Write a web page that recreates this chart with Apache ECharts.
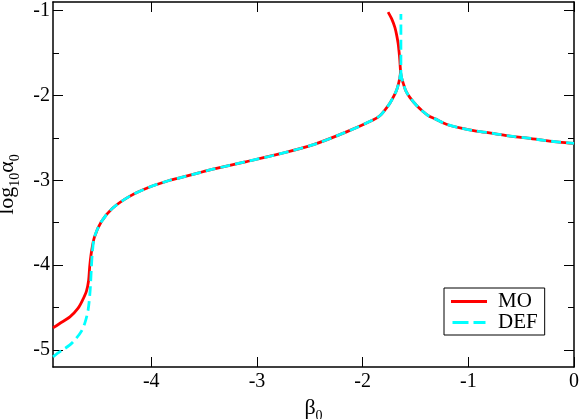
<!DOCTYPE html>
<html>
<head>
<meta charset="utf-8">
<script src="https://cdn.jsdelivr.net/npm/echarts@6/dist/echarts.min.js"></script>
<style>html,body{margin:0;padding:0;background:#fff;}#c{width:581px;height:419px;}</style>
</head>
<body>
<div id="c"></div>
<script>
// MO series (null separates branches)
var moBeta = [-4.93,-4.87,-4.77,-4.694,-4.649,-4.614,-4.593,-4.583,-4.568,-4.538,-4.473,-4.367,-4.206,-4.015,-3.824,-3.723,-3.542,-3.416,-3.099,-2.787,-2.465,-2.153,-1.902,-1.837,-1.781,-1.741,-1.705,-1.679,-1.66,-1.648,-1.642,-1.645,-1.648,-1.655,-1.664,-1.678,-1.695,-1.721,-1.759,
  null,
  -1.642,-1.63,-1.61,-1.59,-1.55,-1.489,-1.429,-1.378,-1.308,-1.207,-1.056,-0.926,-0.755,-0.604,-0.453,-0.282,-0.141,0];
var moLog = [-4.74,-4.69,-4.61,-4.51,-4.41,-4.31,-4.18,-4.02,-3.86,-3.67,-3.49,-3.33,-3.19,-3.08,-3.00,-2.97,-2.91,-2.87,-2.78,-2.69,-2.58,-2.43,-2.29,-2.24,-2.16,-2.09,-2.01,-1.94,-1.86,-1.79,-1.72,-1.65,-1.59,-1.49,-1.39,-1.29,-1.20,-1.11,-1.02,
  null,
  -1.72,-1.80,-1.88,-1.95,-2.03,-2.12,-2.19,-2.24,-2.28,-2.34,-2.39,-2.42,-2.45,-2.48,-2.50,-2.53,-2.55,-2.565];
// DEF series
var defBeta = [-4.93,-4.90,-4.84,-4.77,-4.709,-4.662,-4.628,-4.598,-4.578,-4.568,-4.558,-4.538,-4.473,-4.367,-4.206,-4.015,-3.824,-3.723,-3.542,-3.416,-3.099,-2.787,-2.465,-2.153,-1.902,-1.837,-1.781,-1.741,-1.705,-1.679,-1.66,-1.648,-1.638,-1.638,
  null,
  -1.638,-1.63,-1.61,-1.59,-1.55,-1.489,-1.429,-1.378,-1.308,-1.207,-1.056,-0.926,-0.755,-0.604,-0.453,-0.282,-0.141,0];
var defLog = [-5.08,-5.05,-5.00,-4.94,-4.86,-4.78,-4.68,-4.53,-4.29,-4.06,-3.86,-3.67,-3.49,-3.33,-3.19,-3.08,-3.00,-2.97,-2.91,-2.87,-2.78,-2.69,-2.58,-2.43,-2.29,-2.24,-2.16,-2.09,-2.01,-1.94,-1.86,-1.79,-1.72,-1.04,
  null,
  -1.72,-1.80,-1.88,-1.95,-2.03,-2.12,-2.19,-2.24,-2.28,-2.34,-2.39,-2.42,-2.45,-2.48,-2.50,-2.53,-2.55,-2.565];
var xTicks = [-4,-3,-2,-1,0];
var yTicks = [-5,-4,-3,-2,-1];
var yMinorTicks = [-4.5,-3.5,-2.5,-1.5];

function pairs(xs, ys){
  return xs.map(function(x,i){ return (x===null||ys[i]===null) ? '-' : [x, ys[i]]; });
}
var FONT = 'Liberation Serif';
var chart = echarts.init(document.getElementById('c'), null, {renderer:'canvas'});
var axLine = {show:true, onZero:false, lineStyle:{color:'#000', width:1.5}};
var noLine = {show:false, onZero:false};
var xBase = {type:'value', min:-4.93, max:0, splitLine:{show:false}};
var yBase = {type:'value', min:-5.2, max:-0.9, splitLine:{show:false}};
var tickStyle = {color:'#000', width:1};
var nameRich = {
  a:{fontFamily:FONT, fontSize:22, color:'#000'},
  s:{fontFamily:FONT, fontSize:14, color:'#000', padding:[16,0,0,0]}
};
chart.setOption({
  animation:false,
  backgroundColor:'#fff',
  grid:{left:53, right:7, top:2, bottom:52, containLabel:false, outerBoundsMode:'none'},
  legend:{
    orient:'vertical', left:444, top:288,
    padding:[3,7,2,7], itemGap:0, itemWidth:36, itemHeight:3,
    borderColor:'#000', borderWidth:1, borderRadius:0, backgroundColor:'#fff',
    textStyle:{fontFamily:FONT, fontSize:21, color:'#000', padding:[0,0,0,6], lineHeight:21},
    data:[
      {name:'MO', icon:'path://M0,0h36v3h-36z'},
      {name:'DEF', icon:'path://M0,0h16v3h-16z M21,0h12v3h-12z'}
    ]
  },
  xAxis:[
    Object.assign({}, xBase, {position:'bottom', axisLine:axLine,
      axisTick:{show:true, inside:true, length:10, customValues:xTicks, lineStyle:tickStyle},
      axisLabel:{customValues:xTicks, fontFamily:FONT, fontSize:20, color:'#000', margin:5},
      name:'{a|β}{s|0}', nameLocation:'middle', nameGap:20,
      nameTextStyle:{rich:nameRich}
    }),
    Object.assign({}, xBase, {position:'top', axisLine:axLine,
      axisTick:{show:true, inside:true, length:10, customValues:xTicks, lineStyle:tickStyle},
      axisLabel:{show:false}})
  ],
  yAxis:[
    Object.assign({}, yBase, {position:'left', axisLine:axLine,
      axisTick:{show:true, inside:true, length:10, customValues:yTicks, lineStyle:tickStyle},
      axisLabel:{customValues:yTicks, fontFamily:FONT, fontSize:20, color:'#000', margin:3},
      name:'{a|log}{s|10}{a|α}{s|0}', nameLocation:'middle', nameGap:28, nameRotate:90,
      nameTextStyle:{rich:nameRich}
    }),
    Object.assign({}, yBase, {position:'left', axisLine:noLine,
      axisTick:{show:true, inside:true, length:6, customValues:yMinorTicks, lineStyle:tickStyle},
      axisLabel:{show:false}}),
    Object.assign({}, yBase, {position:'right', axisLine:axLine,
      axisTick:{show:true, inside:true, length:10, customValues:yTicks, lineStyle:tickStyle},
      axisLabel:{show:false}}),
    Object.assign({}, yBase, {position:'right', axisLine:noLine,
      axisTick:{show:true, inside:true, length:6, customValues:yMinorTicks, lineStyle:tickStyle},
      axisLabel:{show:false}})
  ],
  series:[
    {name:'MO', type:'line', xAxisIndex:0, yAxisIndex:0, showSymbol:false, symbol:'none',
     connectNulls:false, smooth:0.3,
     lineStyle:{color:'#ff0000', width:2.8}, itemStyle:{color:'#ff0000'},
     data:pairs(moBeta, moLog)},
    {name:'DEF', type:'line', xAxisIndex:0, yAxisIndex:0, showSymbol:false, symbol:'none',
     connectNulls:false, smooth:0.3,
     lineStyle:{color:'#00ffff', width:2.8, type:[10,5]}, itemStyle:{color:'#00ffff'},
     data:pairs(defBeta, defLog)}
  ]
});
</script>
</body>
</html>
